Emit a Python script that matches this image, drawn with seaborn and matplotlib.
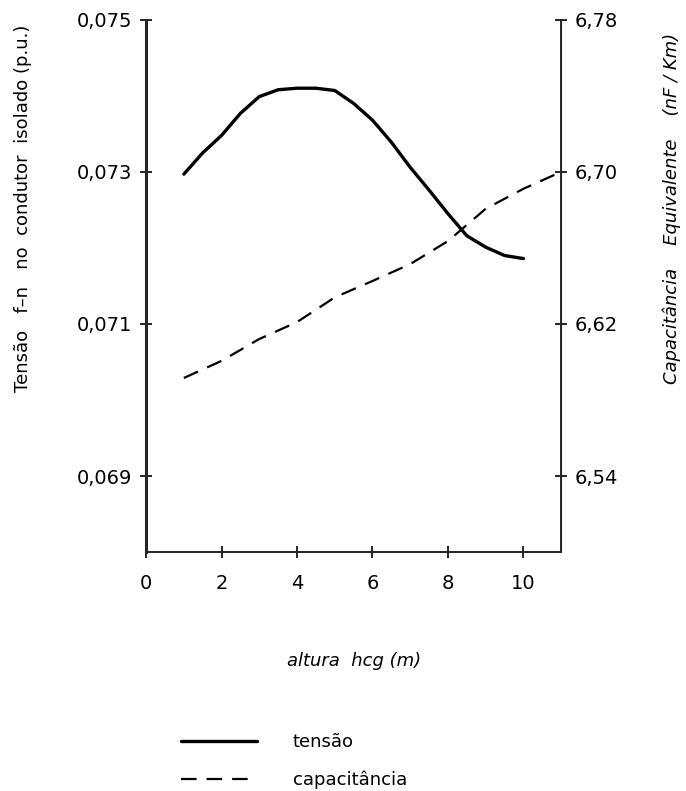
import pandas as pd
import matplotlib
matplotlib.use("Agg")
from matplotlib import pyplot as plt
import seaborn as sns

# tensão f-n no condutor isolado (p.u.) versus altura hcg (m)
altura_tensao = [1, 1.5, 2, 2.5, 3, 3.5, 4, 4.5, 5, 5.5, 6, 6.5, 7, 7.5, 8, 8.5, 9, 9.5, 10]
tensao = [0.07297, 0.07325, 0.07348, 0.07377, 0.07399, 0.07408, 0.07410, 0.07410, 0.07407,
          0.07390, 0.07368, 0.07339, 0.07306, 0.07276, 0.07245, 0.07216, 0.07201, 0.07190, 0.07186]

# capacitância equivalente (nF/Km)
altura_cap = [1, 2, 3, 4, 5, 6, 7, 8, 9, 10, 11]
capacitancia = [6.5916, 6.6006, 6.6121, 6.621, 6.634, 6.6426, 6.6515, 6.6636, 6.6806, 6.6911, 6.700]

x_ticks = [0, 2, 4, 6, 8, 10]
left_ticks = [0.069, 0.071, 0.073, 0.075]
left_labels = ['0,069', '0,071', '0,073', '0,075']
right_ticks = [6.54, 6.62, 6.70, 6.78]
right_labels = ['6,54', '6,62', '6,70', '6,78']

df_t = pd.DataFrame({'altura': altura_tensao, 'tensao': tensao})
df_c = pd.DataFrame({'altura': altura_cap, 'cap': capacitancia})

sns.set_style("ticks")
plt.rcParams['font.family'] = ['DejaVu Sans']
plt.rcParams['text.color'] = 'black'
plt.rcParams['axes.labelcolor'] = 'black'

fig = plt.figure(figsize=(6.86, 7.91), dpi=100)
ax = fig.add_axes([0.213, 0.302, 0.605, 0.673])
ax2 = ax.twinx()

sns.lineplot(x='altura', y='tensao', data=df_t, ax=ax, color='black', linewidth=2.4, legend=False)
sns.lineplot(x='altura', y='cap', data=df_c, ax=ax2, color='black', linewidth=1.6, legend=False)
ax2.lines[0].set_dashes((7, 4.5))

ax.set_xlim(0, 11)
ax.set_ylim(0.068, 0.075)
ax2.set_ylim(6.50, 6.78)

ax.set_xticks(x_ticks)
ax.set_xticklabels([str(v) for v in x_ticks], fontsize=14)
ax.set_yticks(left_ticks)
ax.set_yticklabels(left_labels, fontsize=14)
ax2.set_yticks(right_ticks)
ax2.set_yticklabels(right_labels, fontsize=14)

for a in (ax, ax2):
    a.spines['top'].set_visible(False)
    a.tick_params(direction='inout', length=8, width=1.2, pad=6, colors='black')
ax.tick_params(axis='x', pad=12)
ax.spines['left'].set_linewidth(2.2)
ax.spines['bottom'].set_linewidth(1.4)
ax2.spines['right'].set_linewidth(1.4)
ax2.spines['left'].set_visible(False)
ax2.spines['bottom'].set_visible(False)

ax.set_xlabel('altura  hcg (m)', fontsize=13, style='italic', labelpad=42)
ax.set_ylabel('Tensão   f–n   no  condutor  isolado (p.u.)', fontsize=13)
ax.yaxis.set_label_coords(-0.275, 0.645)
ax2.set_ylabel('Capacitância    Equivalente    (nF / Km)', fontsize=13, style='italic')
ax2.yaxis.set_label_coords(1.245, 0.645)

handles = [ax.lines[0], ax2.lines[0]]
fig.legend(handles, ['tensão', 'capacitância'], loc='upper left',
           bbox_to_anchor=(0.24, 0.094), frameon=False, fontsize=13,
           handlelength=4.2, handletextpad=2.0, labelspacing=1.1)

plt.savefig('out.png', dpi=100)
